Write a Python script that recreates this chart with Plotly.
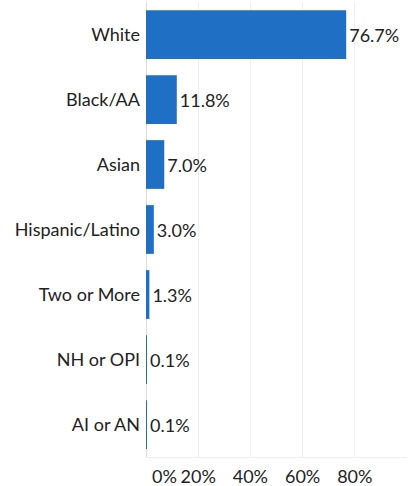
import plotly.graph_objects as go

groups = ["White", "Black/AA", "Asian", "Hispanic/Latino", "Two or More", "NH or OPI", "AI or AN"]
shares = [76.7, 11.8, 7.0, 3.0, 1.3, 0.1, 0.1]
x_ticks = [0, 20, 40, 60, 80]
x_tick_labels = ["\u00a0" * 8 + "0%", "20%", "40%", "60%", "80%"]

fig = go.Figure(go.Bar(
    y=groups,
    x=shares,
    orientation="h",
    marker=dict(color="#1f6fc5", line=dict(width=0)),
    text=[f"{v:.1f}%" for v in shares],
    textposition="outside",
    cliponaxis=False,
    textfont=dict(size=18, color="#222222"),
))

fig.update_layout(
    width=409,
    height=486,
    margin=dict(l=146, r=2, t=2, b=29),
    paper_bgcolor="white",
    plot_bgcolor="white",
    font=dict(family="Lato, sans-serif", size=18, color="#222222"),
    bargap=0.25,
    showlegend=False,
    xaxis=dict(
        range=[0, 100],
        tickvals=x_ticks,
        ticktext=x_tick_labels,
        showgrid=True,
        gridcolor="#eeeeee",
        zeroline=True,
        zerolinecolor="#dddddd",
        zerolinewidth=1,
        showline=True,
        linecolor="#eeeeee",
        automargin=False,
        ticklabelstandoff=3,
        tickfont=dict(size=18, color="#222222"),
    ),
    yaxis=dict(
        categoryorder="array",
        categoryarray=groups[::-1],
        showgrid=False,
        automargin=False,
        ticklabelstandoff=5,
        tickfont=dict(size=18, color="#222222"),
    ),
)

# drop the default body margin so the figure sits at the page corner
fig.write_html(
    "out.html",
    config={"displayModeBar": False},
    post_script="document.body.style.margin='0';",
)
